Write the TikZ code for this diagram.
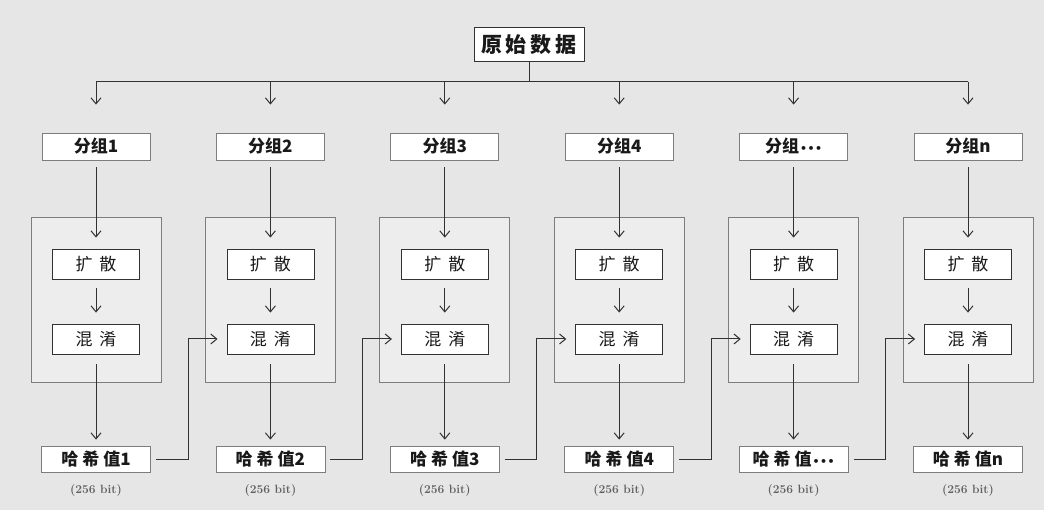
\documentclass[tikz,border=0pt]{standalone}
\usepackage{fontspec}
\usepackage{tikz}
\usetikzlibrary{arrows.meta, positioning, calc}
\newfontfamily\cjk{Noto Sans CJK SC}
\newfontfamily\dvs{DejaVu Sans}
\newcommand{\hsdots}{{\dvs\bfseries\fontsize{11}{11}\selectfont\hspace{1pt}•\hspace{0.5pt}•\hspace{0.5pt}•}}
\definecolor{hsfond}{RGB}{230,230,230}
\definecolor{hsbloc}{RGB}{237,237,237}
\definecolor{hsligne}{RGB}{50,50,50}
\definecolor{hsbord}{RGB}{125,125,125}
\definecolor{hstexte}{RGB}{25,25,25}
\definecolor{hsgris}{RGB}{95,95,95}

\begin{document}
\begin{tikzpicture}[x=1pt, y=-1pt,
    ligne/.style={draw=hsligne, line width=1pt},
    arr/.style={ligne, -{Straight Barb[length=6pt, width=10pt]}},
    srcbox/.style={rectangle, draw=hsligne, fill=white, line width=1pt, minimum width=110pt, minimum height=34pt,
      inner sep=0pt, text=hstexte, font=\cjk\bfseries\fontsize{21}{21}\selectfont},
    grpbox/.style={rectangle, draw=hsbord, fill=white, line width=0.8pt, minimum width=108pt, minimum height=27pt,
      inner sep=0pt, text=hstexte, font=\cjk\bfseries\fontsize{17}{17}\selectfont},
    blkbox/.style={rectangle, draw=hsbord, fill=hsbloc, line width=0.8pt, minimum width=130pt, minimum height=165pt},
    inbox/.style={rectangle, draw=hsligne, fill=white, line width=0.8pt, minimum width=87pt, minimum height=30pt,
      inner sep=0pt, text=hstexte, font=\cjk\fontsize{17}{17}\selectfont},
    hashbox/.style={grpbox, minimum width=109pt, minimum height=26pt},
    bits/.style={text=hsgris, font=\bfseries\fontsize{12}{12}\selectfont}]
  \fill[hsfond] (0,0) rectangle (1044,510);
  \useasboundingbox (0,0) rectangle (1044,510);

  \node[srcbox] (src) at (529,45) {原\hspace{4pt}始\hspace{4pt}数\hspace{4pt}据};
  \coordinate (bus) at (529,82);

  % one column per group
  \foreach \lab [count=\n] in {1,2,3,4,\hsdots,n} {
    \pgfmathsetmacro{\cx}{96+174.4*(\n-1)}
    \node[blkbox] (blk\n) at (\cx,299.5) {};
    \node[grpbox] (grp\n) at (\cx,146.5) {分组\lab};
    \node[inbox] (diff\n) at (\cx,264) {扩\hspace{7pt}散};
    \node[inbox] (conf\n) at (\cx,339) {混\hspace{7pt}淆};
    \node[hashbox] (hash\n) at (\cx,459) {哈\hspace{4pt}希\hspace{4pt}值\lab};
    \node[bits] (bits\n) at (\cx,491) {(256 bit)};
    \coordinate (turn\n) at (\cx+92,0);
    \draw[arr, shorten >=28pt] (grp\n |- bus) -- (grp\n);
    \draw[arr, shorten <=7pt, shorten >=11pt] (grp\n) -- (diff\n);
    \draw[arr, shorten <=9pt, shorten >=11pt] (diff\n) -- (conf\n);
    \draw[arr, shorten <=10pt, shorten >=6pt] (conf\n) -- (hash\n);
  }

  \draw[ligne] (src) -- (bus);
  \draw[ligne] (grp1 |- bus) -- (grp6 |- bus);

  % chaining of the hash values
  \foreach \n [evaluate=\n as \m using int(\n+1)] in {1,...,5}
    \draw[arr, shorten <=5pt, shorten >=9pt] (hash\n.east) -- (hash\n.east -| turn\n) |- (conf\m.west);
\end{tikzpicture}
\end{document}
